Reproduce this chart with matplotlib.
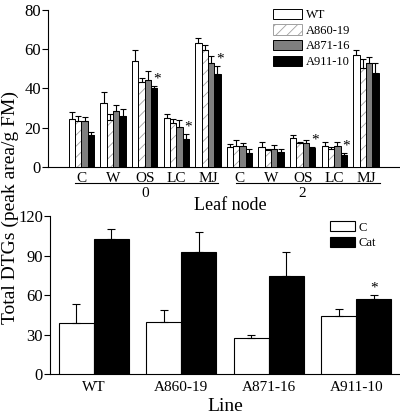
import numpy as np
import matplotlib
matplotlib.use('Agg')
import matplotlib.pyplot as plt
from matplotlib.patches import Patch
import matplotlib.transforms as mtransforms

plt.rcParams['font.family'] = ['Liberation Serif', 'DejaVu Serif']
plt.rcParams['hatch.linewidth'] = 0.6

# ---- top panel data (leaf node 0 and 2, five treatments) ----
treatments = ['C', 'W', 'OS', 'LC', 'MJ']
nodes = ['0', '2']
lines_top = ['WT', 'A860-19', 'A871-16', 'A911-10']

wt_mean   = [24.6, 32.7, 53.9, 25.1, 63.4, 10.0, 10.0, 14.6, 10.8, 57.3]
wt_err    = [3.5, 5.3, 5.6, 1.7, 2.5, 1.9, 2.5, 1.5, 1.7, 2.5]
a860_mean = [23.5, 23.9, 43.4, 22.2, 59.5, 10.8, 8.6, 12.2, 9.2, 50.5]
a860_err  = [2.4, 2.9, 2.2, 2.2, 2.7, 2.8, 0.7, 0.5, 0.9, 4.3]
a871_mean = [23.5, 28.5, 44.2, 20.5, 53.2, 10.5, 9.2, 12.4, 10.8, 53.2]
a871_err  = [2.1, 2.9, 4.8, 3.4, 3.2, 1.5, 1.8, 1.3, 2.1, 2.9]
a911_mean = [16.3, 26.1, 40.2, 14.2, 47.6, 7.3, 7.8, 9.5, 5.9, 47.9]
a911_err  = [1.6, 3.2, 1.1, 2.4, 3.7, 1.9, 1.5, 0.8, 1.1, 5.3]
a911_star = [False, False, True, True, True, False, False, True, True, False]

# ---- bottom panel data ----
line_names = ['WT', 'A860-19', 'A871-16', 'A911-10']
c_mean   = [38.5, 39.5, 27.1, 44.0]
c_err    = [14.4, 9.1, 2.5, 5.4]
cat_mean = [102.3, 92.6, 74.4, 57.0]
cat_err  = [7.8, 15.5, 18.5, 2.8]

fig = plt.figure(figsize=(4.0, 4.15), dpi=100)
ax1 = fig.add_axes([0.12, 0.5976, 0.88, 0.3783])
ax2 = fig.add_axes([0.125, 0.0988, 0.875, 0.3807])

# =========== top panel ===========
x = np.arange(len(wt_mean))
w = 0.2
series = [wt_mean, a860_mean, a871_mean, a911_mean]
errs = [wt_err, a860_err, a871_err, a911_err]
fills = ['white', 'white', '#7f7f7f', 'black']
for k, (m, e) in enumerate(zip(series, errs)):
    xs = x - 0.3 + k * w
    if k == 1:
        ax1.bar(xs, m, w, color='white', edgecolor='#a0a0a0', hatch='///', linewidth=0, zorder=2)
        ax1.bar(xs, m, w, color='none', edgecolor='black', linewidth=0.7, zorder=3)
    else:
        ax1.bar(xs, m, w, color=fills[k], edgecolor='black', linewidth=0.7, zorder=3)
    ax1.errorbar(xs, m, yerr=[np.zeros(len(e)), e], fmt='none', ecolor='black',
                 elinewidth=0.8, capsize=2, capthick=0.8, zorder=4)

for i, s in enumerate(a911_star):
    if s:
        ax1.text(x[i] + 0.3 + 0.08, a911_mean[i] + a911_err[i] + 0.3, '*',
                 ha='center', va='bottom', fontsize=11)

ax1.set_xlim(-1.06, 10.08)
ax1.set_ylim(0, 80)
ax1.set_yticks([0, 20, 40, 60, 80])
ax1.tick_params(axis='y', labelsize=12, length=4, width=0.8, direction='out', pad=1)
ax1.set_xticks([])
for sp in ['top', 'right']:
    ax1.spines[sp].set_visible(False)
ax1.spines['left'].set_linewidth(0.8)
ax1.spines['bottom'].set_linewidth(0.8)

trans = mtransforms.blended_transform_factory(ax1.transData, ax1.transAxes)
for i in x:
    ax1.text(i, -0.03, treatments[i % 5], transform=trans, ha='center', va='top', fontsize=11)
for g, (x0, x1, xc) in enumerate([(-0.2, 4.32, 2.0), (4.89, 9.45, 7.0)]):
    ax1.plot([x0, x1], [-0.10, -0.10], transform=trans, color='black', lw=0.8, clip_on=False)
    ax1.text(xc, -0.125, nodes[g], transform=trans, ha='center', va='top', fontsize=11)
ax1.text(4.7, -0.19, 'Leaf node', transform=trans, ha='center', va='top', fontsize=13)

handles = [Patch(facecolor='white', edgecolor='black', linewidth=0.7),
           Patch(facecolor='white', edgecolor='#a0a0a0', hatch='///', linewidth=0.7),
           Patch(facecolor='#7f7f7f', edgecolor='black', linewidth=0.7),
           Patch(facecolor='black', edgecolor='black', linewidth=0.7)]
ax1.legend(handles, lines_top, loc='upper left', bbox_to_anchor=(0.625, 1.04),
           frameon=False, fontsize=9, handlelength=2.3, handleheight=0.9,
           handletextpad=0.3, labelspacing=0.25, borderaxespad=0)

# =========== bottom panel ===========
xb = np.arange(len(line_names))
wb = 0.4
ax2.bar(xb - wb / 2, c_mean, wb, color='white', edgecolor='black', linewidth=0.8, label='C', zorder=3)
ax2.bar(xb + wb / 2, cat_mean, wb, color='black', edgecolor='black', linewidth=0.8, label='Cat', zorder=3)
ax2.errorbar(xb - wb / 2, c_mean, yerr=[np.zeros(4), c_err], fmt='none', ecolor='black',
             elinewidth=0.8, capsize=3, capthick=0.8, zorder=4)
ax2.errorbar(xb + wb / 2, cat_mean, yerr=[np.zeros(4), cat_err], fmt='none', ecolor='black',
             elinewidth=0.8, capsize=3, capthick=0.8, zorder=4)
ax2.text(xb[3] + wb / 2, cat_mean[3] + cat_err[3] + 0.5, '*', ha='center', va='bottom', fontsize=11)

ax2.set_xlim(-0.5, 3.5)
ax2.set_ylim(0, 120)
ax2.set_yticks([0, 30, 60, 90, 120])
ax2.set_xticks(xb)
ax2.set_xticklabels(line_names, fontsize=11)
ax2.tick_params(axis='x', length=0, pad=5)
ax2.tick_params(axis='y', labelsize=12, length=4, width=0.8, direction='out', pad=1)
for sp in ['top', 'right']:
    ax2.spines[sp].set_visible(False)
ax2.spines['left'].set_linewidth(0.8)
ax2.spines['bottom'].set_linewidth(0.8)
ax2.set_xlabel('Line', fontsize=14, labelpad=3)
ax2.legend(loc='upper left', bbox_to_anchor=(0.785, 1.0), frameon=False, fontsize=9,
           handlelength=2.0, handleheight=0.9, handletextpad=0.3, labelspacing=0.25,
           borderaxespad=0)

fig.text(0.026, 0.5, 'Total DTGs (peak area/g FM)', rotation=90, ha='center', va='center', fontsize=14)

fig.savefig('out.png', dpi=100)
